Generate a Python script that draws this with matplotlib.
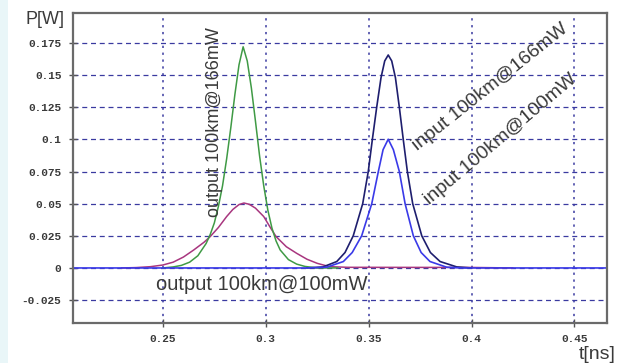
import matplotlib.pyplot as plt
from matplotlib.patches import Rectangle

# pulse shapes (t in ns, P in W)
t_out166 = [0.250, 0.255, 0.259, 0.263, 0.267, 0.271, 0.273, 0.275, 0.277, 0.279,
            0.281, 0.283, 0.285, 0.287, 0.289, 0.291, 0.293, 0.295, 0.297, 0.299,
            0.301, 0.303, 0.305, 0.307, 0.311, 0.315, 0.319, 0.325, 0.335]
p_out166 = [0.0, 0.0008, 0.0020, 0.0045, 0.0095, 0.019, 0.026, 0.035, 0.048, 0.064,
            0.085, 0.109, 0.135, 0.158, 0.172, 0.161, 0.140, 0.114, 0.087, 0.064,
            0.045, 0.031, 0.021, 0.014, 0.0065, 0.003, 0.0012, 0.0, 0.0]

t_out100 = [0.230, 0.237, 0.244, 0.250, 0.255, 0.260, 0.265, 0.270, 0.273, 0.277,
            0.281, 0.284, 0.287, 0.2894, 0.292, 0.295, 0.299, 0.302, 0.305, 0.310,
            0.315, 0.320, 0.325, 0.331, 0.340, 0.400, 0.420]
p_out100 = [0.0, 0.0003, 0.001, 0.0023, 0.0045, 0.0085, 0.0140, 0.0200, 0.0244, 0.0315,
            0.0400, 0.0455, 0.0493, 0.0505, 0.0495, 0.0465, 0.0400, 0.0320, 0.0244, 0.0165,
            0.0114, 0.0068, 0.0036, 0.0010, 0.0005, 0.0004, 0.0]

t_in166 = [0.320, 0.3278, 0.3345, 0.3385, 0.3425, 0.3471, 0.3498, 0.3518, 0.3539, 0.3560,
           0.3578, 0.3595, 0.3612, 0.3630, 0.3649, 0.3668, 0.3688, 0.3714, 0.3758, 0.3800,
           0.3847, 0.3928, 0.400]
p_in166 = [0.0, 0.0008, 0.005, 0.012, 0.025, 0.05, 0.075, 0.1, 0.125, 0.148,
           0.161, 0.1656, 0.161, 0.148, 0.125, 0.1, 0.075, 0.05, 0.025, 0.012,
           0.005, 0.0008, 0.0]

t_in100 = [0.2061, 0.320, 0.3296, 0.3377, 0.342, 0.3466, 0.3515, 0.3547, 0.3570, 0.3595,
           0.3620, 0.3649, 0.3677, 0.3717, 0.3755, 0.3798, 0.3879, 0.395, 0.4656]
p_in100 = [0.0, 0.0, 0.0006, 0.005, 0.012, 0.025, 0.05, 0.075, 0.092, 0.1001,
           0.092, 0.075, 0.05, 0.025, 0.012, 0.005, 0.0006, 0.0, 0.0]

x_ticks = [0.25, 0.3, 0.35, 0.4, 0.45]
x_labels = ['0.25', '0.3', '0.35', '0.4', '0.45']
y_ticks = [-0.025, 0, 0.025, 0.05, 0.075, 0.1, 0.125, 0.15, 0.175]
y_labels = ['-0.025', '0', '0.025', '0.05', '0.075', '0.1', '0.125', '0.15', '0.175']

fig = plt.figure(figsize=(6.22, 3.63), dpi=100)
fig.patches.append(Rectangle((0, 0), 8 / 622, 1, transform=fig.transFigure,
                             facecolor='#e9f6f8', edgecolor='none'))
ax = fig.add_axes([0.1166, 0.1102, 0.8586, 0.8548])

ax.plot(t_out100, p_out100, color='#a8367f', lw=1.1)
ax.plot(t_out166, p_out166, color='#3f9a45', lw=1.1)
ax.plot(t_in166, p_in166, color='#1e1e6e', lw=1.2)
ax.plot(t_in100, p_in100, color='#3a3ae8', lw=1.2)

ax.set_xlim(0.2061, 0.4656)
ax.set_ylim(-0.0428, 0.1985)
ax.set_xticks(x_ticks, x_labels)
ax.set_yticks(y_ticks, y_labels)

ax.grid(axis='y', color='#3a3aa0', ls=(0, (4, 3)), lw=0.9)
ax.grid(axis='x', color='#3a3aa0', ls=(0, (1.5, 3)), lw=1.1)
ax.set_axisbelow(True)

mono = dict(family='Liberation Mono', weight='bold', size=8)
for lab in ax.get_xticklabels() + ax.get_yticklabels():
    lab.set_fontproperties(mono)
    lab.set_color('#3a3a3a')
ax.tick_params(direction='inout', length=6, width=1, color='#555555')
ax.tick_params(axis='x', pad=5)
ax.tick_params(axis='y', pad=5)
for s in ax.spines.values():
    s.set_color('#6a6a6a')
    s.set_linewidth(1.6)

txt = dict(family='Liberation Sans', color='#3a3a3a', ha='center', va='center',
           rotation_mode='anchor')
ax.text(0.2753, 0.1138, 'output 100km@166mW', rotation=90, size=13, **txt)
ax.text(0.298, -0.0132, 'output 100km@100mW', size=14.5, **txt)
ax.text(0.409, 0.1404, 'input 100km@166mW', rotation=38.5, size=14, **txt)
ax.text(0.4142, 0.1002, 'input 100km@100mW', rotation=40, size=14, **txt)

fig.text(0.104, 0.945, 'P[W]', family='Liberation Sans', size=13, color='#3a3a3a',
         ha='right', va='center')
fig.text(0.99, 0.0, 't[ns]', family='Liberation Sans', size=14, color='#3a3a3a',
         ha='right', va='bottom')

fig.savefig('out.png', dpi=100)
